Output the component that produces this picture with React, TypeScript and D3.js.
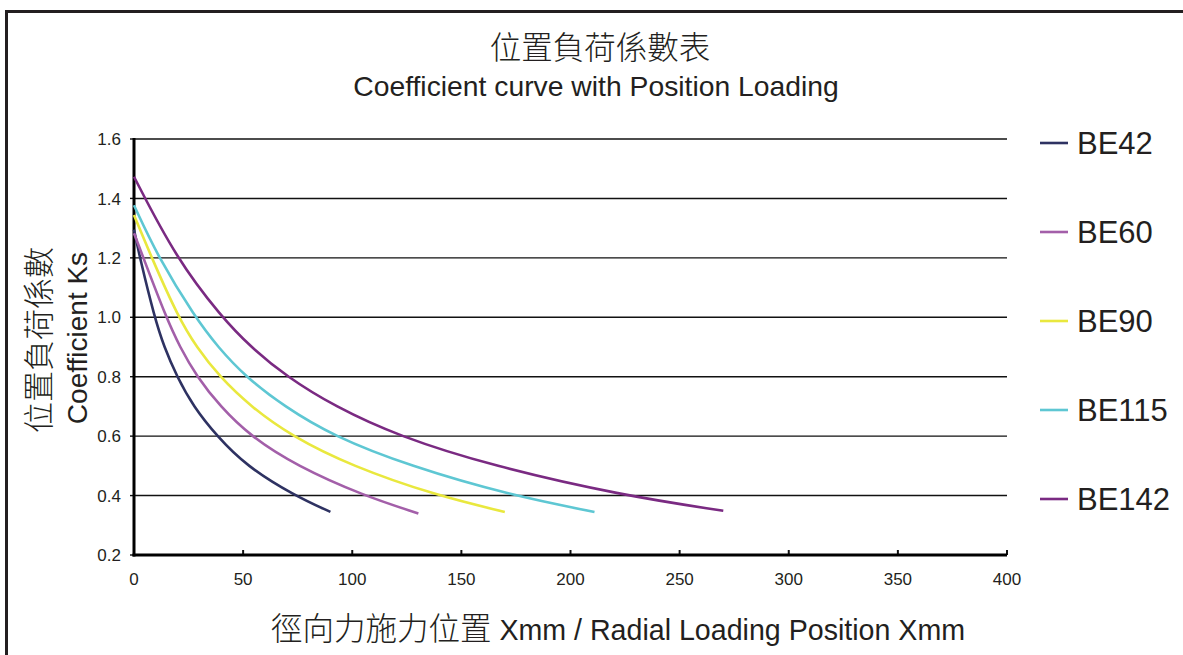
import React from "react";
import * as d3 from "d3";

const seriesNames = ["BE42", "BE60", "BE90", "BE115", "BE142"];
const seriesColors = ["#2e3262", "#a35fa9", "#e9e83e", "#5ec7d3", "#7a2a82"];

const be42: [number, number][] = [[0, 1.295], [2.7, 1.2], [9.4, 1.0], [13.8, 0.9], [19.7, 0.8], [27.2, 0.7], [38.0, 0.6], [51.4, 0.5], [73.5, 0.4], [90, 0.345]];
const be60: [number, number][] = [[0, 1.283], [4.3, 1.2], [14.7, 1.0], [21, 0.9], [28.8, 0.8], [39.5, 0.7], [53.3, 0.6], [74.5, 0.5], [105.1, 0.4], [130.3, 0.34]];
const be90: [number, number][] = [[0, 1.344], [8.1, 1.2], [20.3, 1.0], [28.6, 0.9], [39.2, 0.8], [53.4, 0.7], [72.2, 0.6], [99.5, 0.5], [138.6, 0.4], [169.9, 0.345]];
const be115: [number, number][] = [[0, 1.377], [11.2, 1.2], [28.0, 1.0], [38.4, 0.9], [51.1, 0.8], [68.8, 0.7], [91.3, 0.6], [126, 0.5], [173, 0.4], [211, 0.345]];
const be142: [number, number][] = [[0, 1.473], [19.2, 1.2], [40.2, 1.0], [53.5, 0.9], [70.0, 0.8], [92, 0.7], [121.1, 0.6], [164, 0.5], [224, 0.4], [270, 0.349]];
const seriesData = [be42, be60, be90, be115, be142];

const yTicks = [0.2, 0.4, 0.6, 0.8, 1.0, 1.2, 1.4, 1.6];
const xTicks = [0, 50, 100, 150, 200, 250, 300, 350, 400];

const titleZh = "位置負荷係數表";
const titleEn = "Coefficient curve with Position Loading";
const yLabelZh = "位置負荷係數";
const yLabelEn = "Coefficient Ks";
const xLabelZh = "徑向力施力位置";
const xLabelEn = " Xmm / Radial Loading Position Xmm";

const W = 1183;
const H = 655;
const TXT = "#231f20";
const SANS = "'Liberation Sans', Arial, Helvetica, sans-serif";
const CJK = "'Noto Sans CJK TC', 'Noto Sans CJK SC', sans-serif";

export default function App() {
  const x = d3.scaleLinear().domain([0, 400]).range([134, 1007]);
  const y = d3.scaleLinear().domain([0.2, 1.6]).range([555, 139]);
  const line = d3
    .line<[number, number]>()
    .x((d) => x(d[0]))
    .y((d) => y(d[1]))
    .curve(d3.curveBasis);

  return (
    <svg
      width={W}
      height={H}
      style={{ position: "absolute", left: 0, top: 0, background: "#fff" }}
      fontFamily={SANS}
    >
      <rect x={0} y={0} width={W} height={H} fill="#fff" />
      {/* frame */}
      <line x1={5} y1={11.5} x2={W} y2={11.5} stroke="#231f20" strokeWidth={3} />
      <line x1={6.5} y1={10} x2={6.5} y2={H} stroke="#231f20" strokeWidth={3} />

      {/* titles */}
      <text x={600} y={59} textAnchor="middle" fontFamily={CJK} fontSize={31.5} fill={TXT} fontWeight={300}>
        {titleZh}
      </text>
      <text x={596} y={96} textAnchor="middle" fontSize={28.3} fill={TXT}>
        {titleEn}
      </text>

      {/* gridlines */}
      {yTicks.slice(1).map((t) => (
        <line key={"g" + t} x1={x(0)} x2={x(400)} y1={y(t)} y2={y(t)} stroke="#111" strokeWidth={1.4} />
      ))}
      {/* y ticks */}
      {yTicks.map((t) => (
        <g key={"y" + t}>
          <line x1={x(0) - 4} x2={x(0)} y1={y(t)} y2={y(t)} stroke="#111" strokeWidth={1.4} />
          <text x={121} y={y(t)} dy="0.36em" textAnchor="end" fontSize={17} fill={TXT}>
            {t.toFixed(1)}
          </text>
        </g>
      ))}
      {/* x ticks */}
      {xTicks.map((t) => (
        <g key={"x" + t}>
          <line x1={x(t)} x2={x(t)} y1={y(0.2)} y2={y(0.2) - 5} stroke="#111" strokeWidth={2} />
          <text x={x(t)} y={585} textAnchor="middle" fontSize={17} fill={TXT}>
            {t}
          </text>
        </g>
      ))}
      {/* axes */}
      <line x1={x(0)} x2={x(0)} y1={y(1.6) - 1} y2={y(0.2) + 1.5} stroke="#000" strokeWidth={3} />
      <line x1={x(0) - 1.5} x2={x(400)} y1={y(0.2)} y2={y(0.2)} stroke="#000" strokeWidth={3} />

      {/* curves */}
      {seriesData.map((d, i) => (
        <path key={seriesNames[i]} d={line(d) || ""} fill="none" stroke={seriesColors[i]} strokeWidth={2.6} />
      ))}

      {/* legend */}
      {seriesNames.map((n, i) => {
        const ly = 143 + i * 89;
        return (
          <g key={"l" + n}>
            <line x1={1040} x2={1068} y1={ly} y2={ly} stroke={seriesColors[i]} strokeWidth={2.6} />
            <text x={1077} y={ly} dy="0.36em" fontSize={31} fill={TXT}>
              {n}
            </text>
          </g>
        );
      })}

      {/* y axis labels */}
      <text
        transform={`translate(50,340) rotate(-90)`}
        textAnchor="middle"
        fontFamily={CJK}
        fontSize={31}
        fontWeight={300}
        fill={TXT}
      >
        {yLabelZh}
      </text>
      <text transform={`translate(87,338) rotate(-90)`} textAnchor="middle" fontSize={28} fill={TXT}>
        {yLabelEn}
      </text>

      {/* x axis label */}
      <text x={618} y={640} textAnchor="middle" fill={TXT}>
        <tspan fontFamily={CJK} fontSize={31.5} fontWeight={300}>
          {xLabelZh}
        </tspan>
        <tspan fontSize={28.6}>{xLabelEn}</tspan>
      </text>
    </svg>
  );
}
